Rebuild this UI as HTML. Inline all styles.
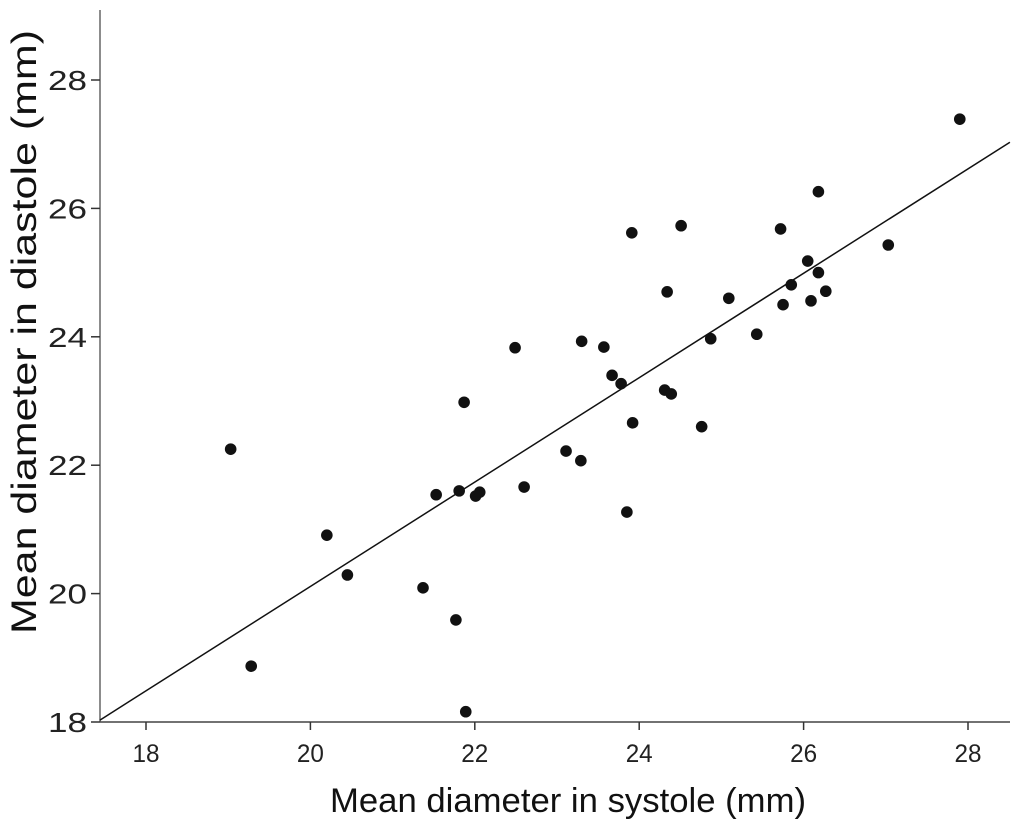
<!DOCTYPE html>
<html><head><meta charset="utf-8"><style>
html,body{margin:0;padding:0;background:#fff;}
svg{display:block;font-family:"Liberation Sans",sans-serif;}
</style></head><body>
<svg id="chart" width="1019" height="820">
<g id="axes"></g><g id="marks"></g>
<text x="568" y="812" text-anchor="middle" font-size="34" textLength="476" lengthAdjust="spacingAndGlyphs" fill="#111">Mean diameter in systole (mm)</text>
<text transform="translate(36,332) rotate(-90)" text-anchor="middle" font-size="35" textLength="604" lengthAdjust="spacingAndGlyphs" fill="#111">Mean diameter in diastole (mm)</text>
</svg>
<script>
const xTicks=[18,20,22,24,26,28];
const yTicks=[18,20,22,24,26,28];
const xs=[19.03,19.28,20.20,20.45,21.37,21.53,21.77,21.81,21.87,21.89,22.01,22.06,22.49,22.60,23.11,23.29,23.30,23.57,23.67,23.78,23.85,23.91,23.92,24.31,24.39,24.34,24.51,24.76,24.87,25.09,25.43,25.72,25.75,25.85,26.05,26.09,26.18,26.18,26.27,27.03,27.90];
const ys=[22.25,18.87,20.91,20.29,20.09,21.54,19.59,21.60,22.98,18.16,21.52,21.58,23.83,21.66,22.22,22.07,23.93,23.84,23.40,23.27,21.27,25.62,22.66,23.17,23.11,24.70,25.73,22.60,23.97,24.60,24.04,25.68,24.50,24.81,25.18,24.56,26.26,25.00,24.71,25.43,27.39];
const fitX=[17.44,28.51];
const fitY=[18.03,27.03];
const X=v=>146+(v-18)*82.2;
const Y=v=>722-(v-18)*64.2;
const NS="http://www.w3.org/2000/svg";
function mk(t,a,p){const e=document.createElementNS(NS,t);for(const k in a)e.setAttribute(k,a[k]);p.appendChild(e);return e;}
const ax=document.getElementById('axes'),mg=document.getElementById('marks');
let l=mk('line',{x1:100,y1:10,x2:100,y2:722,stroke:'#666','stroke-width':1.5},ax);


l=mk('line',{x1:100,y1:722,x2:1010,y2:722,stroke:'#444','stroke-width':1.5},ax);


xTicks.forEach(t=>{
 const tk=mk('line',{x1:X(t),y1:722,x2:X(t),y2:730,stroke:'#333','stroke-width':1.5},ax);
 
 
 const tx=mk('text',{x:X(t),y:762,'text-anchor':'middle','font-size':25,fill:'#222',textLength:27,lengthAdjust:'spacingAndGlyphs'},ax);
 tx.textContent=t;
 
 
});
yTicks.forEach(t=>{
 const tk=mk('line',{x1:91,y1:Y(t),x2:100,y2:Y(t),stroke:'#333','stroke-width':1.5},ax);
 
 
 const tx=mk('text',{x:48,y:Y(t)+10,'text-anchor':'start','font-size':28,fill:'#222',textLength:39,lengthAdjust:'spacingAndGlyphs'},ax);
 tx.textContent=t;
 
 
});
const fl=mk('line',{x1:X(fitX[0]),y1:Y(fitY[0]),x2:X(fitX[1]),y2:Y(fitY[1]),stroke:'#111','stroke-width':1.5},mg);


xs.forEach((v,i)=>{
 const c=mk('circle',{cx:X(v),cy:Y(ys[i]),r:5.8,fill:'#111'},mg);
 
 
});
</script>
</body></html>
